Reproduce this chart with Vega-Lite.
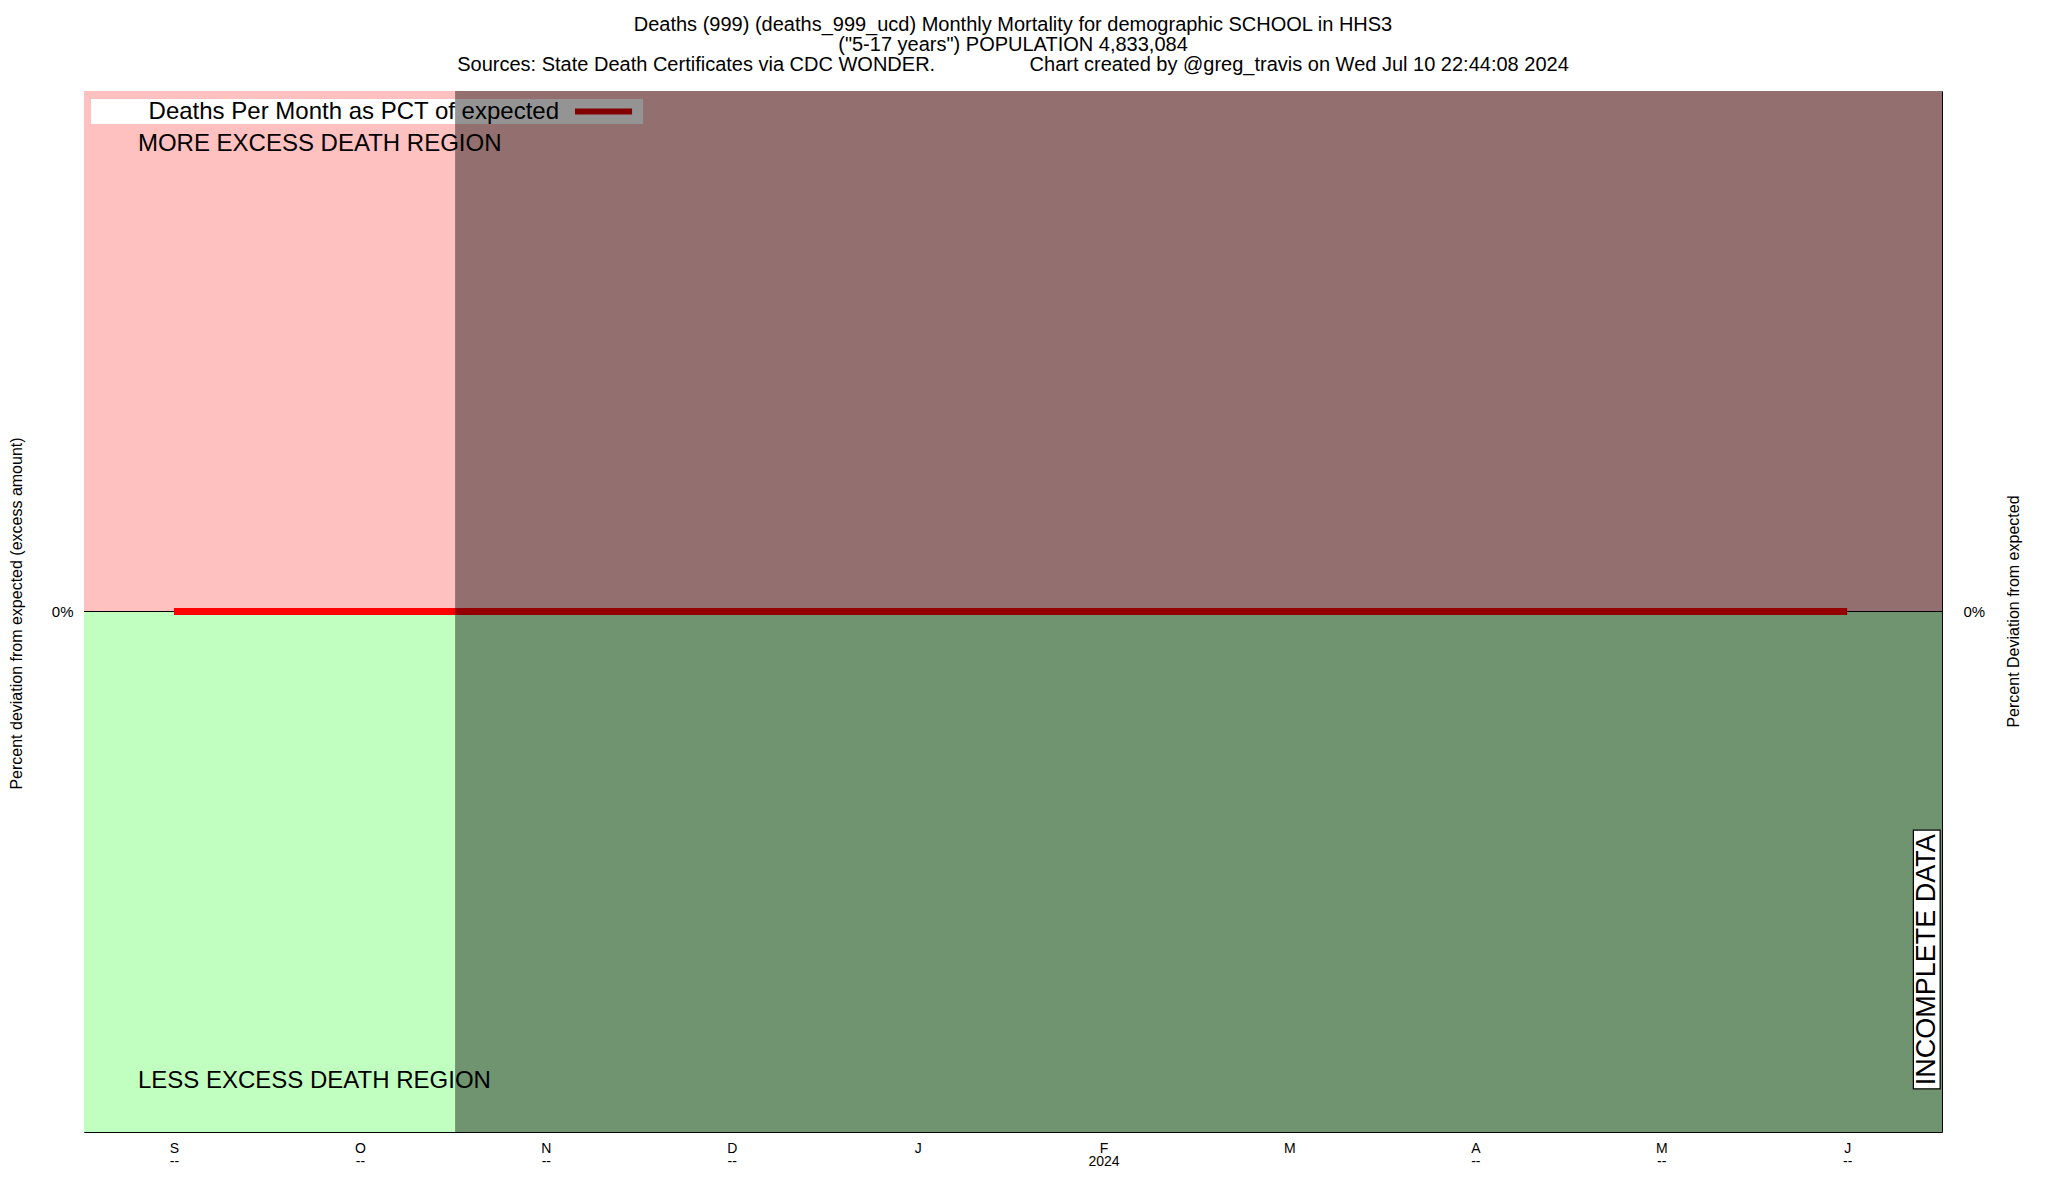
{
  "$schema": "https://vega.github.io/schema/vega-lite/v6.json",
  "width": 1858,
  "height": 1041,
  "autosize": {"type": "none"},
  "padding": {"left": 84, "top": 91, "right": 106, "bottom": 68},
  "config": {
    "font": "Liberation Sans",
    "view": {"stroke": "black", "strokeWidth": 1},
    "axis": {"grid": false, "labelColor": "black", "titleColor": "black", "tickColor": "black"}
  },
  "title": {
    "text": [
      "Deaths (999) (deaths_999_ucd) Monthly Mortality for demographic SCHOOL in HHS3",
      "(\"5-17 years\") POPULATION 4,833,084",
      "Sources: State Death Certificates via CDC WONDER.\u00a0\u00a0\u00a0\u00a0\u00a0\u00a0\u00a0\u00a0\u00a0\u00a0\u00a0\u00a0\u00a0\u00a0\u00a0\u00a0\u00a0Chart created by @greg_travis on Wed Jul 10 22:44:08 2024"
    ],
    "fontSize": 20,
    "fontWeight": "normal",
    "lineHeight": 20,
    "anchor": "middle",
    "offset": 16,
    "color": "black"
  },
  "data": {
    "values": [
      {"month": "2023-09", "m": 0, "pct": 0},
      {"month": "2023-10", "m": 1, "pct": 0},
      {"month": "2023-11", "m": 2, "pct": 0},
      {"month": "2023-12", "m": 3, "pct": 0},
      {"month": "2024-01", "m": 4, "pct": 0},
      {"month": "2024-02", "m": 5, "pct": 0},
      {"month": "2024-03", "m": 6, "pct": 0},
      {"month": "2024-04", "m": 7, "pct": 0},
      {"month": "2024-05", "m": 8, "pct": 0},
      {"month": "2024-06", "m": 9, "pct": 0}
    ]
  },
  "resolve": {"axis": {"x": "independent", "y": "independent"}},
  "layer": [
    {
      "data": {"values": [{}]},
      "mark": {"type": "rect", "fill": "#ffc0c0"},
      "encoding": {
        "x": {"value": 0}, "x2": {"value": "width"},
        "y": {"datum": 100, "type": "quantitative", "axis": null}, "y2": {"datum": 0}
      }
    },
    {
      "data": {"values": [{}]},
      "mark": {"type": "rect", "fill": "#c0ffc0"},
      "encoding": {
        "x": {"value": 0}, "x2": {"value": "width"},
        "y": {"datum": 0, "type": "quantitative", "axis": null}, "y2": {"datum": -100}
      }
    },
    {
      "data": {"values": [{}]},
      "mark": {"type": "rect", "fill": "white"},
      "encoding": {
        "x": {"datum": -0.4465, "type": "quantitative", "axis": null}, "x2": {"datum": 2.523},
        "y": {"datum": 98.46, "type": "quantitative", "axis": null}, "y2": {"datum": 93.66}
      }
    },
    {
      "data": {"values": [{}]},
      "mark": {"type": "text", "text": "Deaths Per Month as PCT of expected", "fontSize": 24, "align": "right", "baseline": "middle", "color": "black"},
      "encoding": {
        "x": {"datum": 2.071, "type": "quantitative", "axis": null},
        "y": {"datum": 96.06, "type": "quantitative", "axis": null}
      }
    },
    {
      "data": {"values": [{}]},
      "mark": {"type": "rule", "color": "#e00000", "strokeWidth": 6},
      "encoding": {
        "x": {"datum": 2.157, "type": "quantitative", "axis": null}, "x2": {"datum": 2.464},
        "y": {"datum": 96.06, "type": "quantitative", "axis": null}
      }
    },
    {
      "data": {"values": [{}]},
      "mark": {"type": "text", "text": "MORE EXCESS DEATH REGION", "fontSize": 24, "align": "left", "baseline": "middle", "color": "black"},
      "encoding": {
        "x": {"datum": -0.194, "type": "quantitative", "axis": null},
        "y": {"datum": 89.8, "type": "quantitative", "axis": null}
      }
    },
    {
      "data": {"values": [{}]},
      "mark": {"type": "text", "text": "LESS EXCESS DEATH REGION", "fontSize": 24, "align": "left", "baseline": "middle", "color": "black"},
      "encoding": {
        "x": {"datum": -0.194, "type": "quantitative", "axis": null},
        "y": {"datum": -90.2, "type": "quantitative", "axis": null}
      }
    },
    {
      "data": {"values": [{}]},
      "mark": {"type": "rule", "color": "black", "strokeWidth": 1},
      "encoding": {
        "y": {"datum": 0, "type": "quantitative", "axis": null}
      }
    },
    {
      "mark": {"type": "line", "color": "#ff0000", "strokeWidth": 7},
      "encoding": {
        "x": {
          "field": "m", "type": "quantitative",
          "scale": {"domain": [-0.484, 9.51], "nice": false, "zero": false},
          "axis": {
            "orient": "bottom", "values": [0, 1, 2, 3, 4, 5, 6, 7, 8, 9],
            "labelExpr": "[['S','O','N','D','J','F','M','A','M','J'][datum.value], ['--','--','--','--','','2024','','--','--','--'][datum.value]]",
            "tickSize": -8, "domain": false, "labelPadding": 17, "labelFontSize": 14,
            "labelLineHeight": 13, "title": null, "labelFlush": false
          }
        },
        "y": {
          "field": "pct", "type": "quantitative",
          "scale": {"domain": [-100, 100], "nice": false, "zero": false},
          "axis": {
            "orient": "left", "values": [0], "labelExpr": "'0%'", "ticks": false, "domain": false,
            "labelPadding": 11, "labelFontSize": 15,
            "title": "Percent deviation from expected (excess amount)", "titleFontSize": 16,
            "titleFontWeight": "normal", "titleX": -68, "titleY": 522, "titleAngle": 270,
            "titleBaseline": "middle", "titleAlign": "center"
          }
        }
      }
    },
    {
      "data": {"values": [{}]},
      "mark": {"type": "rect", "fill": "black", "opacity": 0.42},
      "encoding": {
        "x": {"datum": 1.512, "type": "quantitative", "axis": null}, "x2": {"value": "width"},
        "y": {"datum": 100, "type": "quantitative", "axis": null}, "y2": {"datum": -100}
      }
    },
    {
      "mark": {"type": "point", "opacity": 0},
      "encoding": {
        "x": {
          "field": "m", "type": "quantitative",
          "axis": {"orient": "top", "values": [0, 1, 2, 3, 4, 5, 6, 7, 8, 9], "labels": false, "tickSize": -8, "domain": false, "title": null}
        },
        "y": {
          "field": "pct", "type": "quantitative",
          "axis": {
            "orient": "right", "values": [0], "labelExpr": "'0%'", "ticks": false, "domain": false,
            "labelPadding": 21, "labelFontSize": 15,
            "title": "Percent Deviation from expected", "titleFontSize": 16, "titleFontWeight": "normal",
            "titleX": 71, "titleY": 520, "titleAngle": 270, "titleBaseline": "middle", "titleAlign": "center"
          }
        }
      }
    },
    {
      "data": {"values": [{}]},
      "mark": {"type": "rect", "fill": "white", "stroke": "black", "strokeWidth": 1.2},
      "encoding": {
        "x": {"datum": 9.356, "type": "quantitative", "axis": null}, "x2": {"datum": 9.5},
        "y": {"datum": -42.0, "type": "quantitative", "axis": null}, "y2": {"datum": -91.7}
      }
    },
    {
      "data": {"values": [{}]},
      "mark": {"type": "text", "text": "INCOMPLETE DATA", "fontSize": 27, "angle": 270, "align": "center", "baseline": "middle", "color": "black"},
      "encoding": {
        "x": {"datum": 9.43, "type": "quantitative", "axis": null},
        "y": {"datum": -66.9, "type": "quantitative", "axis": null}
      }
    }
  ]
}
